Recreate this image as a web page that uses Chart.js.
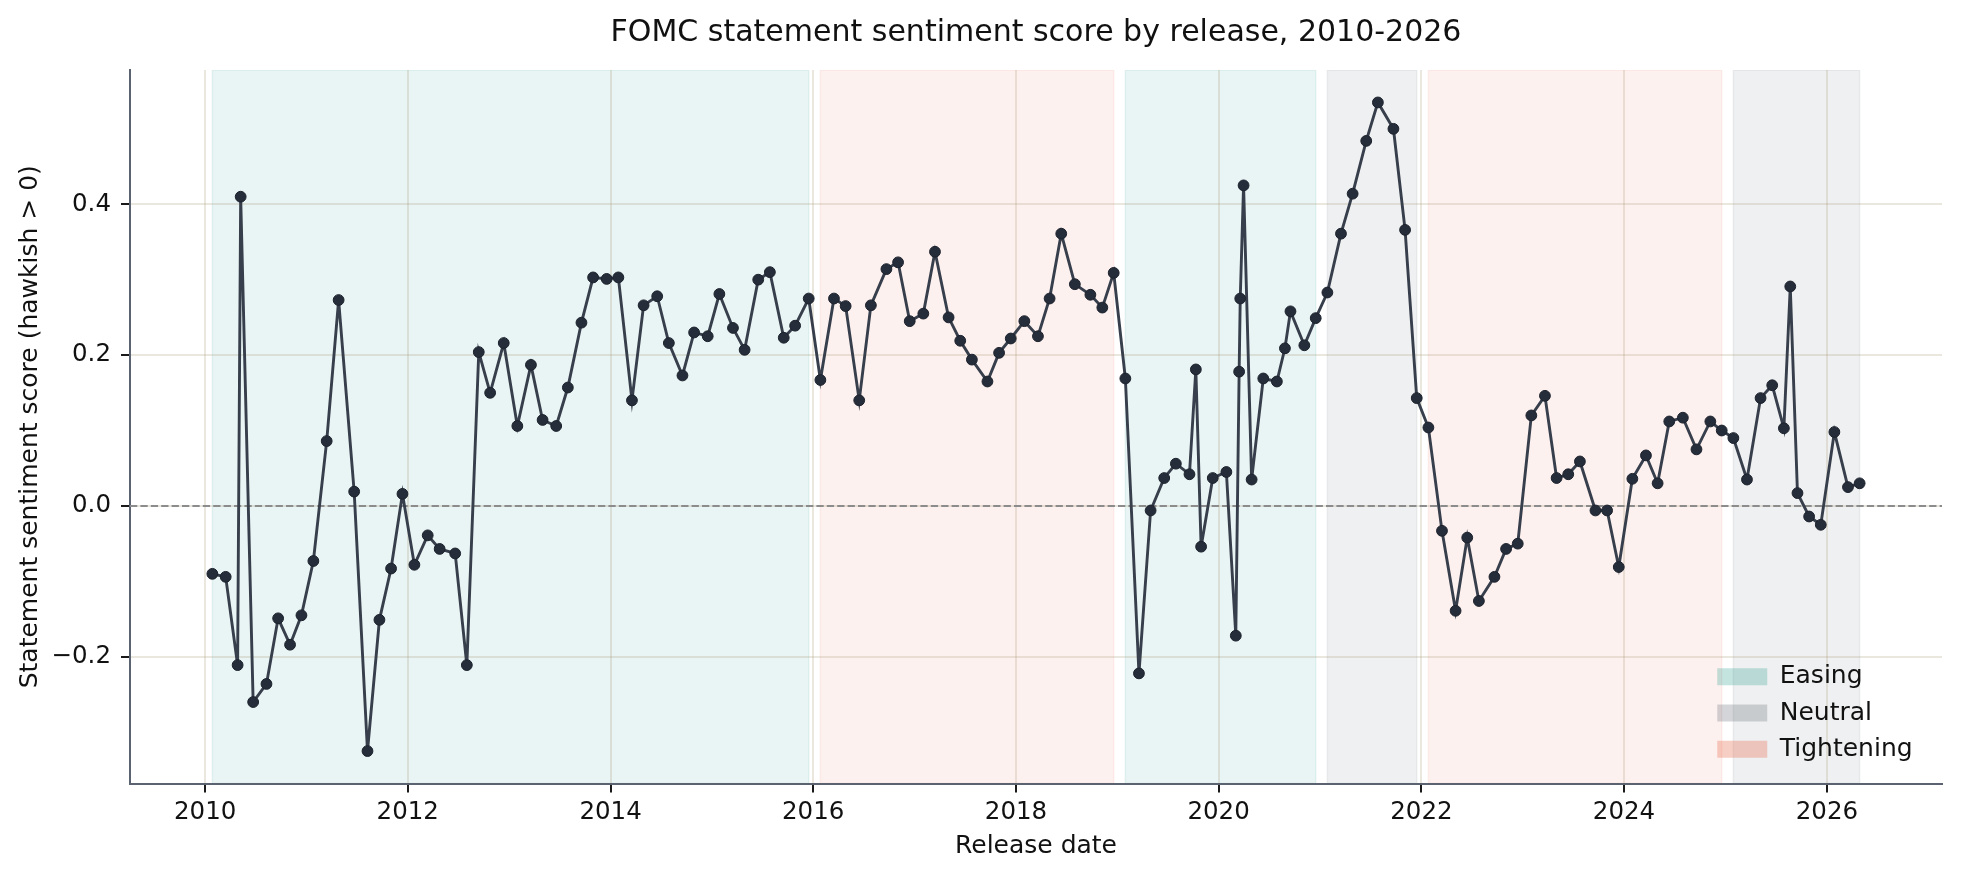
<!DOCTYPE html>
<html>
<head>
<meta charset="utf-8">
<title>FOMC statement sentiment</title>
<script src="https://cdn.jsdelivr.net/npm/chart.js@4.4.1/dist/chart.umd.min.js"></script>
<style>
  html, body { margin: 0; padding: 0; background: #ffffff; }
  #wrap { width: 1961px; height: 877px; position: relative; }
</style>
</head>
<body>
<div id="wrap"><canvas id="chartSentiment"></canvas></div>
<script>
/* ---------- Dados: uma linha por ano ---------- */
const releaseDates = [
  "2010-01-27","2010-03-16","2010-04-28","2010-05-09","2010-06-23","2010-08-10","2010-09-21","2010-11-03","2010-12-14",
  "2011-01-26","2011-03-15","2011-04-27","2011-06-22","2011-08-09","2011-09-21","2011-11-02","2011-12-13",
  "2012-01-25","2012-03-13","2012-04-25","2012-06-20","2012-08-01","2012-09-13","2012-10-24","2012-12-12",
  "2013-01-30","2013-03-20","2013-05-01","2013-06-19","2013-07-31","2013-09-18","2013-10-30","2013-12-18",
  "2014-01-29","2014-03-19","2014-04-30","2014-06-18","2014-07-30","2014-09-17","2014-10-29","2014-12-17",
  "2015-01-28","2015-03-18","2015-04-29","2015-06-17","2015-07-29","2015-09-17","2015-10-28","2015-12-16",
  "2016-01-27","2016-03-16","2016-04-27","2016-06-15","2016-07-27","2016-09-21","2016-11-02","2016-12-14",
  "2017-02-01","2017-03-15","2017-05-03","2017-06-14","2017-07-26","2017-09-20","2017-11-01","2017-12-13",
  "2018-01-31","2018-03-21","2018-05-02","2018-06-13","2018-08-01","2018-09-26","2018-11-08","2018-12-19",
  "2019-01-30","2019-03-20","2019-05-01","2019-06-19","2019-07-31","2019-09-18","2019-10-11","2019-10-30","2019-12-11",
  "2020-01-29","2020-03-03","2020-03-15","2020-03-19","2020-03-31","2020-04-29","2020-06-10","2020-07-29","2020-08-27","2020-09-16","2020-11-05","2020-12-16",
  "2021-01-27","2021-03-17","2021-04-28","2021-06-16","2021-07-28","2021-09-22","2021-11-03","2021-12-15",
  "2022-01-26","2022-03-16","2022-05-04","2022-06-15","2022-07-27","2022-09-21","2022-11-02","2022-12-14",
  "2023-02-01","2023-03-22","2023-05-03","2023-06-14","2023-07-26","2023-09-20","2023-11-01","2023-12-13",
  "2024-01-31","2024-03-20","2024-05-01","2024-06-12","2024-07-31","2024-09-18","2024-11-07","2024-12-18",
  "2025-01-29","2025-03-19","2025-05-07","2025-06-18","2025-07-30","2025-08-22","2025-09-17","2025-10-29","2025-12-10",
  "2026-01-28","2026-03-18","2026-04-29"
];

const scores = [
  -0.090, -0.094, -0.211, 0.410, -0.260, -0.236, -0.149, -0.184, -0.145,
  -0.073, 0.086, 0.273, 0.019, -0.325, -0.151, -0.083, 0.016,
  -0.078, -0.039, -0.057, -0.063, -0.211, 0.204, 0.150, 0.216,
  0.106, 0.187, 0.114, 0.106, 0.157, 0.243, 0.303, 0.301,
  0.303, 0.140, 0.266, 0.278, 0.216, 0.173, 0.230, 0.225,
  0.281, 0.236, 0.207, 0.300, 0.310, 0.223, 0.239, 0.275,
  0.167, 0.275, 0.265, 0.140, 0.266, 0.314, 0.323, 0.245,
  0.255, 0.337, 0.250, 0.219, 0.194, 0.165, 0.203, 0.222,
  0.245, 0.225, 0.275, 0.361, 0.294, 0.280, 0.263, 0.309,
  0.169, -0.222, -0.006, 0.037, 0.056, 0.042, 0.181, -0.054, 0.037,
  0.045, -0.172, 0.178, 0.275, 0.425, 0.035, 0.169, 0.165, 0.209, 0.258, 0.213, 0.249,
  0.283, 0.361, 0.414, 0.484, 0.535, 0.500, 0.366, 0.143,
  0.104, -0.033, -0.139, -0.042, -0.126, -0.094, -0.057, -0.050,
  0.120, 0.146, 0.037, 0.042, 0.059, -0.006, -0.006, -0.081,
  0.036, 0.067, 0.030, 0.112, 0.117, 0.075, 0.112, 0.100,
  0.090, 0.035, 0.143, 0.160, 0.103, 0.291, 0.017, -0.014, -0.025,
  0.098, 0.025, 0.030
];

/* regimes de política monetária (anos inclusivos) */
const regimeNames     = ["Easing", "Tightening", "Easing", "Neutral", "Tightening", "Neutral"];
const regimeFirstYear = [2010, 2016, 2019, 2021, 2022, 2025];
const regimeLastYear  = [2015, 2018, 2020, 2021, 2024, 2026];
const legendOrder     = ["Easing", "Neutral", "Tightening"];

const xTickYears  = [2010, 2012, 2014, 2016, 2018, 2020, 2022, 2024, 2026];
const yTickValues = [-0.2, 0.0, 0.2, 0.4];

/* ---------- Estilo ---------- */
const FONT      = "'DejaVu Sans', 'Liberation Sans', sans-serif";
const INK       = "#111111";
const LINE      = "#383f4c";
const MARKER    = "#262d3a";
const SPINE     = "#5b6371";
const GRID      = "rgba(160,145,110,0.22)";
const ZERO_LINE = "#8c8c8c";

const SPAN_FILL = {
  Easing:     "rgba(42,157,143,0.10)",
  Neutral:    "rgba(108,117,125,0.11)",
  Tightening: "rgba(231,111,81,0.095)",
};
const LEGEND_FILL = {
  Easing:     "rgba(42,157,143,0.28)",
  Neutral:    "rgba(108,117,125,0.30)",
  Tightening: "rgba(231,111,81,0.34)",
};

Chart.defaults.font.family = FONT;
Chart.defaults.color = INK;

/* ---------- Preparação ---------- */
const xValues = releaseDates.map(d => Date.parse(d));
const points  = xValues.map((x, i) => ({ x: x, y: scores[i] }));

// margens automáticas de 5% (como o matplotlib)
const xMin0 = Math.min(...xValues), xMax0 = Math.max(...xValues);
const yMin0 = Math.min(...scores),  yMax0 = Math.max(...scores);
const xPad = (xMax0 - xMin0) * 0.05, yPad = (yMax0 - yMin0) * 0.05;

// faixas: da primeira à última divulgação de cada regime
const spans = regimeNames.map((name, i) => {
  const inRegime = releaseDates
    .map((d, j) => ({ year: +d.slice(0, 4), x: xValues[j] }))
    .filter(p => p.year >= regimeFirstYear[i] && p.year <= regimeLastYear[i]);
  return { name: name, start: inRegime[0].x, end: inRegime[inRegime.length - 1].x };
});

/* ---------- Plugins ---------- */
const regimeSpans = {
  id: "regimeSpans",
  beforeDraw(chart) {
    const { ctx, chartArea: a, scales: { x } } = chart;
    ctx.save();
    ctx.beginPath();
    ctx.rect(a.left, a.top, a.right - a.left, a.bottom - a.top);
    ctx.clip();
    spans.forEach(s => {
      const x0 = x.getPixelForValue(s.start);
      const x1 = x.getPixelForValue(s.end);
      ctx.fillStyle = SPAN_FILL[s.name];
      ctx.fillRect(x0, a.top, x1 - x0, a.bottom - a.top);
      ctx.strokeStyle = SPAN_FILL[s.name];
      ctx.lineWidth = 1.5;
      ctx.strokeRect(x0, a.top, x1 - x0, a.bottom - a.top);
    });
    ctx.restore();
  },
};

const zeroLine = {
  id: "zeroLine",
  beforeDatasetsDraw(chart) {
    const { ctx, chartArea: a, scales: { y } } = chart;
    const py = y.getPixelForValue(0);
    ctx.save();
    ctx.strokeStyle = ZERO_LINE;
    ctx.lineWidth = 2;
    ctx.setLineDash([7.3, 3.1]);
    ctx.beginPath();
    ctx.moveTo(a.left, py);
    ctx.lineTo(a.right, py);
    ctx.stroke();
    ctx.restore();
  },
};

// título centrado nos eixos e legenda no canto inferior direito
const placeBlocks = {
  id: "placeBlocks",
  afterLayout(chart) {
    const a = chart.chartArea;
    if (chart.titleBlock) {
      chart.titleBlock.left = a.left;
      chart.titleBlock.right = a.right;
    }
    const lg = chart.legend;
    if (lg) {
      lg.left = a.right - 236;
      lg.right = lg.left + lg.width;
      lg.top = a.bottom - 130.5;
      lg.bottom = a.bottom;
    }
  },
};

/* ---------- Gráfico ---------- */
const datasets = [{
  label: "Statement sentiment",
  data: points,
  borderColor: LINE,
  borderWidth: 2.9,
  pointRadius: 5.4,
  pointBackgroundColor: MARKER,
  pointBorderColor: "#1c222d",
  pointBorderWidth: 1,
  tension: 0,
  clip: false,
}].concat(legendOrder.map(name => ({
  label: name,
  data: [],
  backgroundColor: LEGEND_FILL[name],
  borderColor: LEGEND_FILL[name],
  borderWidth: 0,
})));

new Chart(document.getElementById("chartSentiment"), {
  type: "line",
  data: { datasets: datasets },
  plugins: [regimeSpans, zeroLine, placeBlocks],
  options: {
    responsive: true,
    maintainAspectRatio: false,
    animation: false,
    events: [],
    layout: { padding: { left: 0, right: 19, top: 0, bottom: 0 } },
    plugins: {
      title: {
        display: true,
        text: "FOMC statement sentiment score by release, 2010-2026",
        color: INK,
        font: { size: 30, weight: "normal" },
        padding: { top: 14.8, bottom: 19.2 },
      },
      legend: {
        position: "chartArea",
        align: "start",
        labels: {
          boxWidth: 50,
          boxHeight: 17,
          padding: 11.25,
          color: INK,
          font: { size: 25 },
          filter: item => item.datasetIndex > 0,
        },
      },
      tooltip: { enabled: false },
    },
    scales: {
      x: {
        type: "linear",
        min: xMin0 - xPad,
        max: xMax0 + xPad,
        afterBuildTicks: s => { s.ticks = xTickYears.map(yr => ({ value: Date.UTC(yr, 0, 1) })); },
        afterFit: s => { s.height = 93.5; },
        grid: { color: GRID, lineWidth: 2, tickColor: "#1a1a1a", tickWidth: 2, tickLength: 9 },
        border: { color: SPINE, width: 2 },
        ticks: {
          autoSkip: false,
          maxRotation: 0,
          padding: 5.5,
          color: INK,
          font: { size: 24.5 },
          callback: v => String(new Date(v).getUTCFullYear()),
        },
        title: {
          display: true,
          text: "Release date",
          color: INK,
          font: { size: 25 },
          padding: { top: 0, bottom: 15.2 },
        },
      },
      y: {
        type: "linear",
        min: yMin0 - yPad,
        max: yMax0 + yPad,
        afterBuildTicks: s => { s.ticks = yTickValues.map(v => ({ value: v })); },
        afterFit: s => { s.width = 130; },
        grid: { color: GRID, lineWidth: 2, tickColor: "#1a1a1a", tickWidth: 2, tickLength: 9 },
        border: { color: SPINE, width: 2 },
        ticks: {
          padding: 10,
          color: INK,
          font: { size: 24.5 },
          callback: v => (Math.abs(v) < 1e-9 ? "0.0" : v.toFixed(1).replace("-", "\u2212")),
        },
        title: {
          display: true,
          text: "Statement sentiment score (hawkish > 0)",
          color: INK,
          font: { size: 25 },
          padding: { top: 15.5, bottom: 0 },
        },
      },
    },
  },
});
</script>
</body>
</html>
